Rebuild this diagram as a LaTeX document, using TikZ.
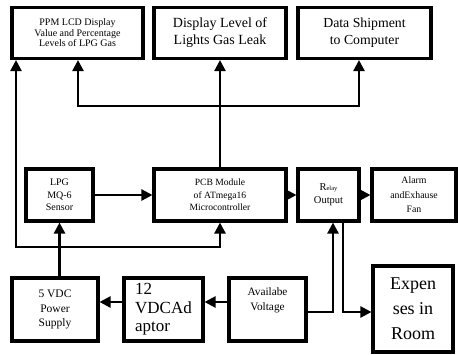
\documentclass[tikz,border=0pt]{standalone}
\usepackage{fontspec}
\setmainfont{Liberation Serif}
\usetikzlibrary{arrows.meta}
\newcommand{\fs}[2]{\fontsize{#1}{#2}\selectfont}
\tikzset{
  blk/.style={draw, line width=3.1pt, align=center, inner sep=1pt},
  arr/.style={line width=2.4pt, -{Triangle[length=11pt,width=11pt]}},
  arrs/.style={line width=2.4pt, {Triangle[length=11pt,width=11pt]}-{Triangle[length=11pt,width=11pt]}},
}
\begin{document}
\begin{tikzpicture}[x=1pt,y=-1pt]
            \useasboundingbox (0,0) rectangle (458,354);

            % top row
            \node[blk, minimum width=131pt, minimum height=51pt, font=\fs{10}{10.5}] (lcd) at (77.5,33) {PPM LCD Display\\Value and Percentage\\Levels of LPG Gas};
            \node[blk, minimum width=132pt, minimum height=51pt, font=\fs{14}{17}] (lvl) at (220,33) {Display Level of\\Lights Gas Leak};
            \node[blk, minimum width=133pt, minimum height=51pt, font=\fs{13.8}{17}] (data) at (364.5,33) {Data Shipment\\to Computer};

            % middle row
            \node[blk, minimum width=67pt, minimum height=52pt, font=\fs{10}{12.5}] (lpg) at (59.5,195) {LPG\\MQ-6\\Sensor};
            \node[blk, minimum width=132pt, minimum height=52pt, font=\fs{9.6}{12.5}] (pcb) at (220,195) {PCB Module\\of ATmega16\\Microcontroller};
            \node[blk, minimum width=61pt, minimum height=52pt, font=\fs{10.5}{13}] (rly) at (328.5,195) {R{\fs{6.5}{6.5}elay}\\Output};
            \node[blk, minimum width=84pt, minimum height=52pt, font=\fs{9.8}{14.5}] (alm) at (414,195) {Alarm\\andExhause\\Fan};

            % bottom row
            \node[blk, minimum width=86pt, minimum height=63pt, font=\fs{11.5}{14.5}] (ps) at (55,309.5) {5 VDC\\Power\\Supply};
            \node[blk, minimum width=79pt, minimum height=63pt, font=\fs{17}{18.5}, align=left] (adp) at (163.5,309.5) {12\\VDCAd\\aptor};
            \node[blk, minimum width=77pt, minimum height=63pt] (av) at (267.5,309.5) {};
            \node[font=\fs{11.3}{15}, align=center] (avtxt) at (267.5,300) {Availabe\\Voltage};
            \node[blk, minimum width=80pt, minimum height=86pt, font=\fs{18}{25}] (exp) at (413,309) {Expen\\ses in\\Room};

            % connectors
            \coordinate (lp) at (16,247);
            \coordinate (tl) at (78,106);
            \coordinate (tr) at (359,106);
            \draw[arrs] (lcd.south -| lp) -- (lp) -| (pcb.south);
            \draw[arrs] (lcd.south -| tl) -- (tl) -- (tr) -- (data.south -| tr);
            \draw[arr] (pcb.north) -- (lvl.south);

            \draw[arr] (lpg) -- (pcb);
            \draw[arr] (pcb) -- (rly);
            \draw[arr] (rly) -- (alm);

            \draw[arr] (lpg.south |- ps.north) -- (lpg.south);
            \draw[arr] ([yshift=7.5pt]adp.west) -- ([yshift=7.5pt]ps.east);
            \draw[arr] ([yshift=7.5pt]av.west) -- ([yshift=7.5pt]adp.east);
            \draw[arr] ([yshift=-2.5pt]av.east) -| ([xshift=4.5pt]rly.south);
            \draw[arr] ([xshift=14.5pt]rly.south) |- ([yshift=-3pt]exp.west);
\end{tikzpicture}
\end{document}
